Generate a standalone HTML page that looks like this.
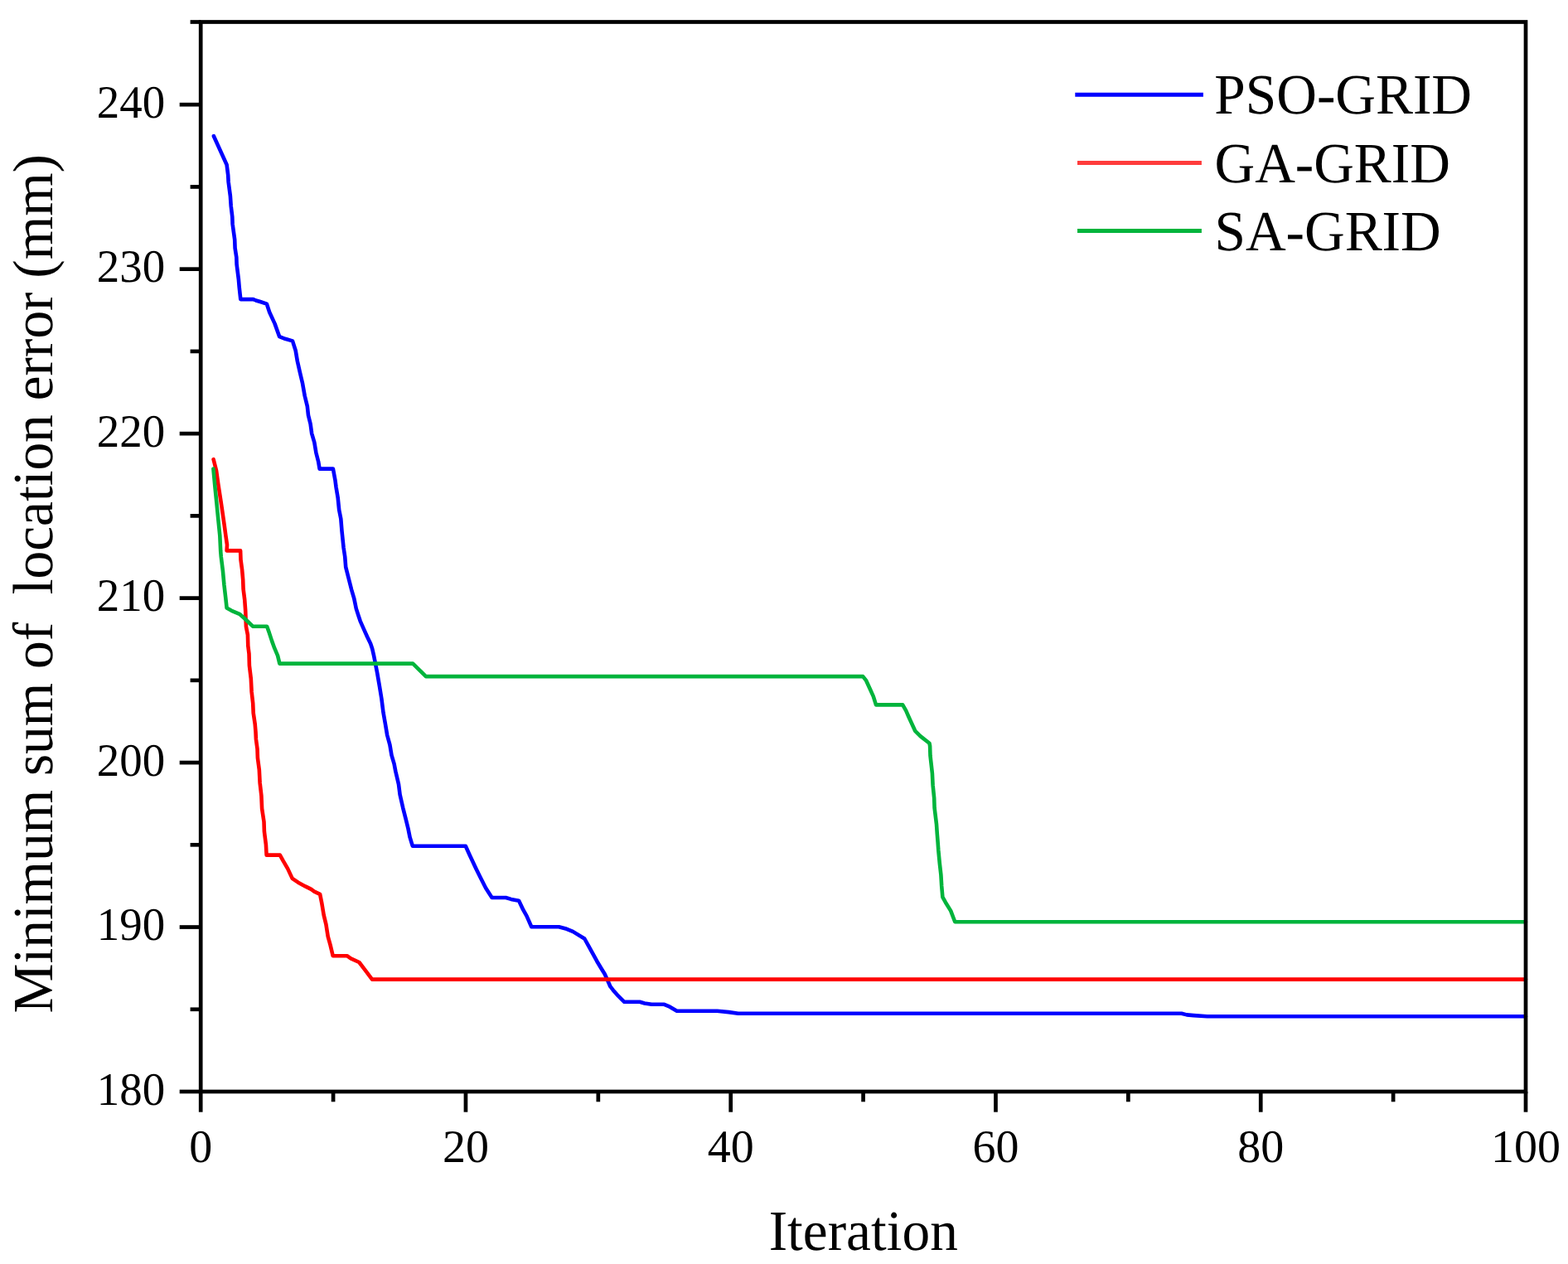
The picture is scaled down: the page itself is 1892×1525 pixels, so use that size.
<!DOCTYPE html>
<html><head><meta charset="utf-8"><title>Iteration chart</title>
<style>
html,body{margin:0;padding:0;background:#fff;overflow:hidden;width:1892px;height:1525px;}
svg{display:block;}
.ax line{stroke:#000;stroke-width:4.7;stroke-linecap:butt;}
.cv{fill:none;stroke-width:4.6;stroke-linejoin:round;stroke-linecap:round;}
.lg{stroke-width:5;stroke-linecap:butt;}
text{font-family:"Liberation Serif","Times New Roman",serif;fill:#000;white-space:pre;text-rendering:geometricPrecision;}
.tk{font-size:56px;}
.ti{font-size:68.6px;}
</style></head>
<body>
<svg width="1892" height="1525" viewBox="0 0 1892 1525">
<rect width="1892" height="1525" fill="#fff"/>
<path d="M257.9,164.2 L273.6,198.8 L275.2,211.4 L275.6,219.2 L277.9,236.6 L278.7,248.4 L280.3,261.7 L280.6,270.2 L283.2,289.1 L283.6,299.3 L285.3,310.4 L285.6,319.0 L287.9,337.1 L288.7,346.6 L290.3,361.1 L305.6,361.1 L308.8,362.5 L314.0,364.0 L321.8,366.6 L325.2,376.8 L331.5,390.4 L337.2,406.2 L344.1,408.8 L353.0,411.4 L356.7,423.0 L358.8,435.5 L361.9,449.2 L365.1,462.8 L367.7,477.5 L370.8,490.1 L372.0,501.0 L374.6,511.5 L376.2,523.1 L379.3,533.6 L381.4,546.2 L384.1,556.7 L385.6,565.6 L401.9,565.6 L404.5,579.7 L405.6,588.1 L407.7,600.7 L409.2,615.4 L411.3,625.9 L412.5,640.6 L414.6,661.0 L416.2,671.5 L417.2,684.1 L420.4,696.7 L424.1,711.3 L427.2,721.8 L429.8,734.4 L432.5,742.8 L434.6,749.1 L438.8,758.6 L443.0,768.0 L447.1,776.4 L449.2,782.7 L451.3,792.1 L455.1,811.5 L457.8,827.2 L460.4,843.0 L462.5,859.7 L465.1,874.4 L467.2,887.0 L470.4,898.6 L472.5,911.2 L475.6,921.6 L477.3,930.5 L481.0,946.2 L482.6,958.8 L486.2,974.6 L489.4,987.1 L492.5,999.7 L494.6,1010.2 L497.8,1020.7 L561.8,1020.7 L567.0,1032.3 L574.4,1048.0 L579.6,1058.5 L586.2,1071.5 L593.6,1083.0 L610.4,1083.0 L616.7,1084.9 L626.1,1086.7 L631.3,1097.7 L635.5,1105.1 L641.3,1118.2 L674.4,1118.2 L683.8,1120.8 L691.2,1123.9 L705.3,1132.5 L710.1,1141.1 L715.2,1150.4 L720.3,1159.7 L725.4,1168.2 L729.6,1175.0 L733.8,1184.3 L736.4,1190.2 L739.7,1194.4 L744.8,1200.3 L753.3,1208.8 L771.9,1208.8 L777.8,1210.5 L786.3,1211.8 L801.5,1211.8 L808.2,1214.7 L816.7,1219.8 L865.4,1219.8 L879.3,1221.1 L890.7,1222.7 L1425.7,1222.7 L1432.0,1224.4 L1440.3,1225.1 L1456.7,1226.3 L1841.0,1226.3" stroke="#0000ff" class="cv"/>
<path d="M257.6,554.2 L261.0,567.5 L263.3,584.1 L266.1,602.2 L268.1,615.5 L270.8,634.4 L272.4,646.3 L274.0,657.3 L273.6,664.4 L290.1,664.4 L290.5,675.4 L292.1,687.2 L293.2,699.8 L293.6,710.8 L295.2,723.4 L296.2,737.0 L296.9,755.7 L298.9,766.0 L299.3,779.3 L300.5,788.8 L300.9,803.0 L302.8,818.7 L303.6,834.4 L305.2,848.6 L305.7,860.2 L307.7,873.6 L308.5,883.1 L308.9,891.7 L310.5,903.5 L310.9,914.5 L312.8,928.7 L313.6,944.4 L315.4,960.1 L316.1,975.7 L318.5,991.5 L318.9,1003.3 L320.9,1019.0 L321.6,1031.6 L337.8,1031.6 L341.7,1038.7 L347.2,1048.1 L352.7,1059.9 L359.8,1064.7 L368.5,1069.4 L375.5,1072.9 L379.2,1075.6 L386.1,1078.8 L388.4,1090.3 L390.7,1104.1 L393.4,1115.1 L395.7,1129.8 L398.5,1139.9 L401.7,1153.2 L418.7,1153.2 L423.3,1156.4 L433.4,1161.0 L439.8,1169.3 L449.0,1181.6 L1841.0,1181.6" stroke="#ff0000" class="cv"/>
<path d="M257.4,565.6 L259.4,587.2 L261.4,606.9 L263.3,626.6 L265.3,646.2 L266.2,665.0 L266.8,672.0 L268.9,688.8 L270.4,705.3 L272.4,722.6 L273.6,733.6 L279.5,736.8 L289.0,740.8 L296.0,747.0 L305.0,755.7 L322.1,755.7 L324.9,763.6 L328.0,773.1 L331.1,781.7 L335.1,791.1 L337.4,800.6 L498.2,800.6 L513.9,816.1 L1041.2,816.1 L1045.2,821.2 L1049.9,831.5 L1053.8,840.1 L1057.0,850.4 L1089.2,850.4 L1093.2,857.4 L1096.3,864.5 L1100.3,873.2 L1104.2,881.8 L1110.5,888.1 L1121.5,896.8 L1122.1,900.0 L1122.5,911.8 L1124.9,933.1 L1125.6,947.2 L1127.2,963.0 L1127.6,974.8 L1130.0,994.4 L1130.8,1006.2 L1131.6,1016.0 L1132.3,1025.7 L1133.8,1041.5 L1135.4,1055.6 L1136.2,1069.0 L1137.4,1082.4 L1140.9,1088.7 L1147.2,1098.9 L1152.3,1112.2 L1841.0,1112.2" stroke="#00b43c" class="cv"/>
<g class="ax">
<rect x="242.2" y="26.5" width="1598.8" height="1290.5" fill="none" stroke="#000" stroke-width="4.7" stroke-linejoin="miter"/>
<line x1="216.7" y1="1317.0" x2="242.2" y2="1317.0" />
<line x1="229.6" y1="1217.77" x2="242.2" y2="1217.77" />
<line x1="216.7" y1="1118.53" x2="242.2" y2="1118.53" />
<line x1="229.6" y1="1019.3" x2="242.2" y2="1019.3" />
<line x1="216.7" y1="920.07" x2="242.2" y2="920.07" />
<line x1="229.6" y1="820.83" x2="242.2" y2="820.83" />
<line x1="216.7" y1="721.6" x2="242.2" y2="721.6" />
<line x1="229.6" y1="622.37" x2="242.2" y2="622.37" />
<line x1="216.7" y1="523.13" x2="242.2" y2="523.13" />
<line x1="229.6" y1="423.9" x2="242.2" y2="423.9" />
<line x1="216.7" y1="324.67" x2="242.2" y2="324.67" />
<line x1="229.6" y1="225.43" x2="242.2" y2="225.43" />
<line x1="216.7" y1="126.2" x2="242.2" y2="126.2" />
<line x1="229.6" y1="26.5" x2="242.2" y2="26.5" />
<line x1="242.2" y1="1317.0" x2="242.2" y2="1341.7" />
<line x1="402.08" y1="1317.0" x2="402.08" y2="1329.3" />
<line x1="561.96" y1="1317.0" x2="561.96" y2="1341.7" />
<line x1="721.84" y1="1317.0" x2="721.84" y2="1329.3" />
<line x1="881.72" y1="1317.0" x2="881.72" y2="1341.7" />
<line x1="1041.6" y1="1317.0" x2="1041.6" y2="1329.3" />
<line x1="1201.48" y1="1317.0" x2="1201.48" y2="1341.7" />
<line x1="1361.36" y1="1317.0" x2="1361.36" y2="1329.3" />
<line x1="1521.24" y1="1317.0" x2="1521.24" y2="1341.7" />
<line x1="1681.12" y1="1317.0" x2="1681.12" y2="1329.3" />
<line x1="1841.0" y1="1317.0" x2="1841.0" y2="1341.7" />
</g>
<text x="199.2" y="1332.8" text-anchor="end" class="tk" transform="translate(199.2,0) scale(0.98,1) translate(-199.2,0)">180</text>
<text x="199.2" y="1134.33" text-anchor="end" class="tk" transform="translate(199.2,0) scale(0.98,1) translate(-199.2,0)">190</text>
<text x="199.2" y="935.87" text-anchor="end" class="tk" transform="translate(199.2,0) scale(0.98,1) translate(-199.2,0)">200</text>
<text x="199.2" y="737.4" text-anchor="end" class="tk" transform="translate(199.2,0) scale(0.98,1) translate(-199.2,0)">210</text>
<text x="199.2" y="538.93" text-anchor="end" class="tk" transform="translate(199.2,0) scale(0.98,1) translate(-199.2,0)">220</text>
<text x="199.2" y="340.47" text-anchor="end" class="tk" transform="translate(199.2,0) scale(0.98,1) translate(-199.2,0)">230</text>
<text x="199.2" y="142.0" text-anchor="end" class="tk" transform="translate(199.2,0) scale(0.98,1) translate(-199.2,0)">240</text>
<text x="242.2" y="1402" text-anchor="middle" class="tk">0</text>
<text x="561.96" y="1402" text-anchor="middle" class="tk">20</text>
<text x="881.72" y="1402" text-anchor="middle" class="tk">40</text>
<text x="1201.48" y="1402" text-anchor="middle" class="tk">60</text>
<text x="1521.24" y="1402" text-anchor="middle" class="tk">80</text>
<text x="1841.0" y="1402" text-anchor="middle" class="tk">100</text>
<text transform="translate(927.65,1507.6) scale(0.982,1)" class="ti">Iteration</text>
<text transform="translate(63.1,1222.4) rotate(-90) scale(0.982,1)" class="ti">Minimum sum of  location error (mm)</text>
<line x1="1297.3" y1="114.25" x2="1451.9" y2="114.25" stroke="#0000ff" class="lg"/>
<line x1="1300" y1="196.5" x2="1449.9" y2="196.5" stroke="#ff3c3c" class="lg"/>
<line x1="1300" y1="278.6" x2="1449.9" y2="278.6" stroke="#00b43c" class="lg"/>
<text transform="translate(1465.35,137.2) scale(0.982,1)" class="ti">PSO-GRID</text>
<text transform="translate(1465.5,219.7) scale(0.982,1)" class="ti">GA-GRID</text>
<text transform="translate(1465.5,302.1) scale(0.982,1)" class="ti">SA-GRID</text>
</svg>
</body></html>
